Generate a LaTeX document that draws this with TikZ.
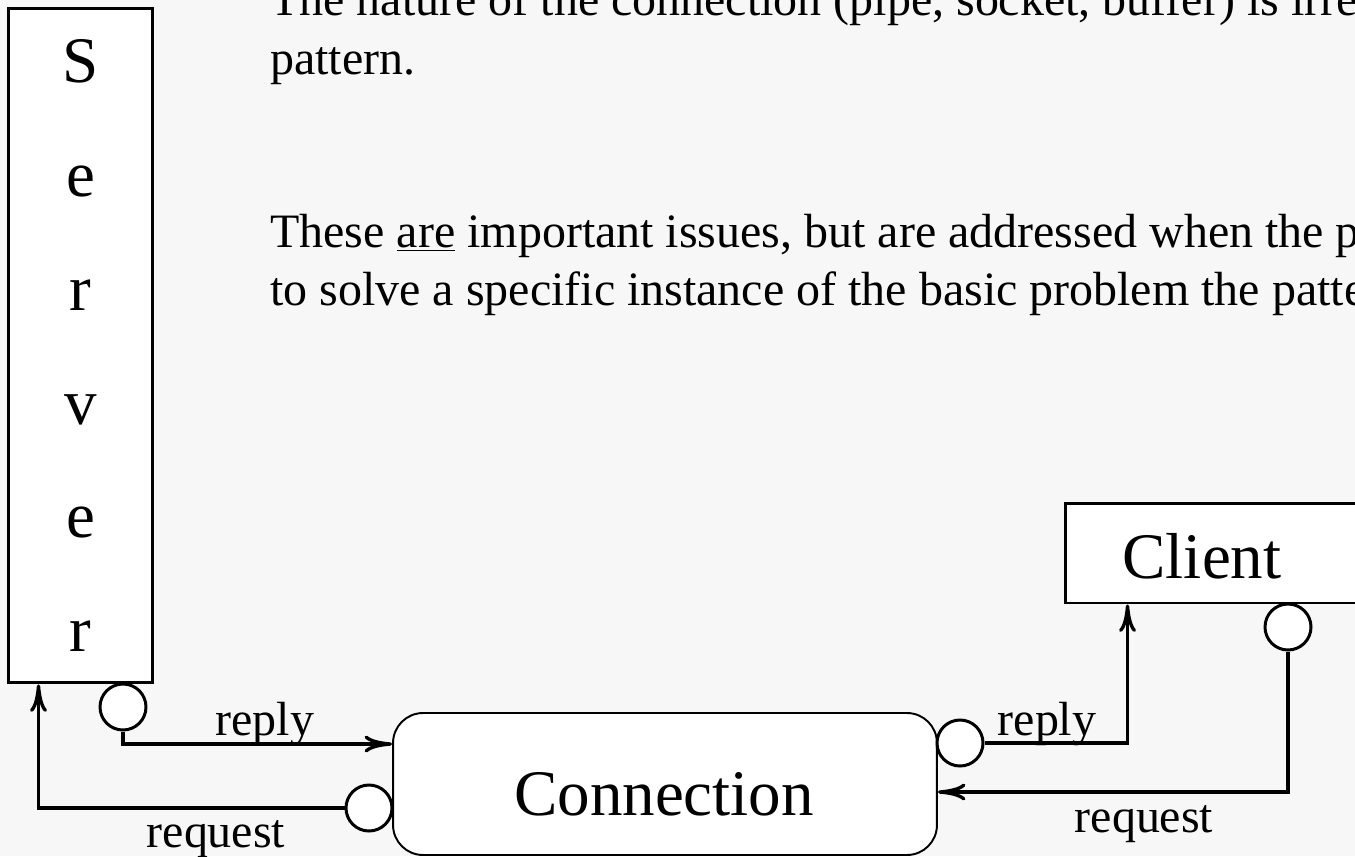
\documentclass[tikz,border=0pt]{standalone}
\usepackage{fontspec}
\setmainfont{Liberation Serif}
\usepackage{tikz}
\usetikzlibrary{arrows.meta}

\begin{document}
\begin{tikzpicture}[x=0.02cm, y=-0.02cm,
    >={To[length=0.55cm,width=0.34cm]},
    box/.style={draw, line width=1.7pt, fill=white, inner sep=0pt},
    port/.style={draw, circle, line width=1.7pt, fill=white, minimum size=0.92cm, inner sep=0pt},
    wire/.style={line width=1.9pt},
    big/.style={font=\fontsize{37}{40}\selectfont, inner sep=0pt},
    small/.style={font=\fontsize{27.3}{32}\selectfont, inner sep=0pt}]
            % Fondo
            \useasboundingbox (0,0) rectangle (1355,856);
            \clip (0,0) rectangle (1355,856);
            \fill[gray!6] (0,0) rectangle (1355,856);

            % Texto
            \node[small, anchor=base west] (l1) at (270,15) {The nature of the connection (pipe, socket, buffer) is irrelevant};
            \node[small, anchor=base west] (l2) at (270,74) {pattern.};
            \node[small, anchor=base west] (l3) at (270,247) {These \underline{are} important issues, but are addressed when the pattern};
            \node[small, anchor=base west] (l4) at (270,305) {to solve a specific instance of the basic problem the pattern};

            % Nodos
            \node[box, minimum width=2.9cm, minimum height=13.5cm, align=center, font=\fontsize{37}{64.85}\selectfont] (server) at (80.5,345.5) {S\\e\\r\\v\\e\\r};
            \node[box, line width=1.1pt, rounded corners=0.6cm, minimum width=10.88cm, minimum height=2.84cm] (conn) at (665,784) {};
            \node[big, anchor=base] (connlabel) at (664,815) {Connection};
            \node[box, minimum width=7.1cm, minimum height=2cm] (client) at (1242.5,553) {};
            \node[big, anchor=base] (clientlabel) at (1202,578) {Client};

            \node[port] (sport) at (123,707) {};
            \node[port] (cport) at (369,808) {};
            \node[port] (rport) at (960,743) {};
            \node[port] (clport) at (1288,627) {};

            % Aristas
            \draw[wire] (server.south -| sport) -- (sport.north);
            \draw[wire] (client.south -| clport) -- (clport.north);
            \draw[wire, ->] (sport.south) |- ([yshift=0.8cm]conn.west);
            \draw[wire, ->] (cport.west) -| ([xshift=0.64cm]server.south west);
            \draw[wire, ->] (rport.east) -| ([xshift=1.28cm]client.south west);
            \draw[wire, ->] (clport.south) |- ([yshift=-0.16cm]conn.east);

            % Etiquetas
            \node[small, anchor=base] (sreply) at (265,735) {reply};
            \node[small, anchor=base] (sreq) at (216,847) {request};
            \node[small, anchor=base] (creply) at (1047,735) {reply};
            \node[small, anchor=base] (creq) at (1144,832) {request};
          \end{tikzpicture}
\end{document}
